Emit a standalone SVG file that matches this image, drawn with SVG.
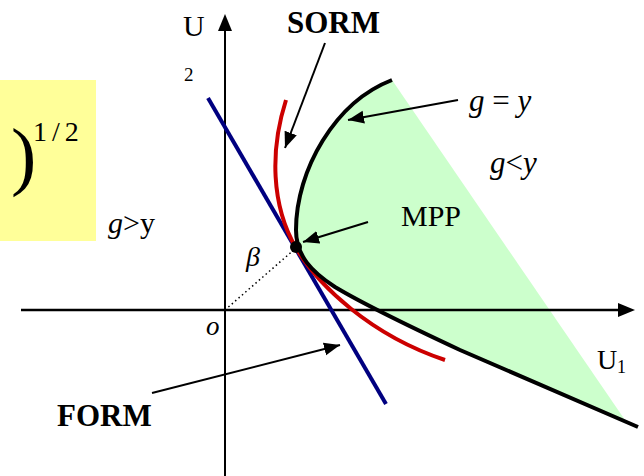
<svg xmlns="http://www.w3.org/2000/svg" width="644" height="476" viewBox="0 0 644 476">
<style>
text{font-family:"Liberation Serif","DejaVu Serif",serif;fill:#000}
.b{font-weight:bold}
.i{font-style:italic}
.ann{stroke:#000;stroke-width:2;fill:none}
.curve{fill:none;stroke-width:4;stroke-linecap:butt}
</style>
<defs>
<marker id="ah" markerUnits="userSpaceOnUse" markerWidth="18" markerHeight="14" refX="16" refY="6.5" orient="auto">
<path d="M0,0 L16,6.5 L0,13 z" fill="#000"/>
</marker>
</defs>
<g font-family="Liberation Serif, DejaVu Serif, serif">
<g id="formula-box">
<rect x="0" y="80" width="96" height="161" fill="#FFFF99"/>
<text x="11" y="181" font-size="76" font-family="Liberation Serif">)</text>
<text x="33" y="141" font-size="28" letter-spacing="5" font-family="Liberation Serif">1/2</text>
</g>
<g id="safe-region">
<path d="M392,80 C335,102 296,170 296,230 C296,256 312,272 335,287 C365,305 400,322 460,350 L625,420 Z" fill="#CCFFCC"/>
</g>
<g id="axes">
<line x1="225" y1="28" x2="225" y2="476" stroke="#000" stroke-width="2"/>
<path d="M225,14 L232,31 L218,31 Z" fill="#000"/>
<line x1="21" y1="310" x2="620" y2="310" stroke="#000" stroke-width="2.5"/>
<path d="M635,310 L618,303 L618,317 Z" fill="#000"/>
<text x="183" y="36" font-size="30" font-family="Liberation Serif">U</text>
<text x="184" y="81" font-size="19" font-family="Liberation Serif">2</text>
<text x="597" y="369" font-size="28" font-family="Liberation Serif">U</text>
<text x="617" y="373" font-size="18" font-family="Liberation Serif">1</text>
<text class="i" x="206" y="335" font-size="27" font-family="Liberation Serif">o</text>
</g>
<g id="beta">
<line x1="225" y1="310" x2="296" y2="248" stroke="#000" stroke-width="1.5" stroke-dasharray="1.5 3"/>
<text class="i" x="246" y="266" font-size="28" font-family="Liberation Serif">β</text>
</g>
<g id="form-line">
<line x1="208" y1="98" x2="386" y2="404" stroke="#000080" class="curve"/>
</g>
<g id="sorm-curve">
<path d="M286,100 C270,150 271,205 296,248 C318,285 370,335 445,360" stroke="#CC0000" class="curve"/>
</g>
<g id="limit-state">
<path d="M392,80 C335,102 296,170 296,230 C296,256 312,272 335,287 C365,305 400,322 460,350 L638,427" stroke="#000" class="curve"/>
</g>
<g id="mpp">
<circle cx="296" cy="247" r="6" fill="#000"/>
</g>
<g id="labels">
<text class="b" x="287" y="33" font-size="31" font-family="Liberation Serif">SORM</text>
<text class="b" x="57" y="426" font-size="31" font-family="Liberation Serif">FORM</text>
<text x="401" y="226" font-size="30" font-family="Liberation Serif">MPP</text>
<text x="469" y="111" font-size="31" font-family="Liberation Serif"><tspan class="i">g</tspan> = <tspan class="i">y</tspan></text>
<text x="490" y="173" font-size="31" font-family="Liberation Serif"><tspan class="i">g</tspan>&lt;<tspan class="i">y</tspan></text>
<text x="108" y="233" font-size="30" font-family="Liberation Serif"><tspan class="i">g</tspan>&gt;y</text>
</g>
<g id="connectors">
<line class="ann" x1="325" y1="43" x2="285" y2="148" marker-end="url(#ah)"/>
<line class="ann" x1="458" y1="100" x2="348" y2="120" marker-end="url(#ah)"/>
<line class="ann" x1="368" y1="222" x2="303" y2="242" marker-end="url(#ah)"/>
<line class="ann" x1="152" y1="393" x2="340" y2="345" marker-end="url(#ah)"/>
</g>
</g>
</svg>
